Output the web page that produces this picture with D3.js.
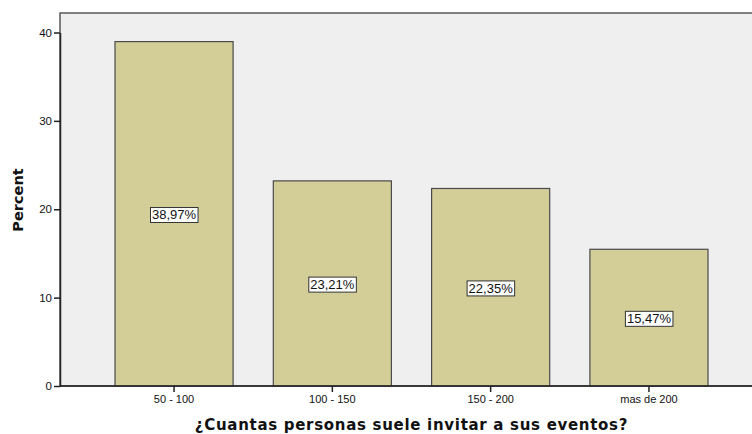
<!DOCTYPE html>
<html>
<head>
<meta charset="utf-8">
<script src="https://cdn.jsdelivr.net/npm/d3@7/dist/d3.min.js"></script>
<style>
  html, body { margin: 0; padding: 0; background: #fff; }
  svg { display: block; font-family: "Liberation Sans", Arial, sans-serif; }
</style>
</head>
<body>
<svg id="chart" width="752" height="434"></svg>
<script>
// Categories and percentage values
const categories = ["50 - 100", "100 - 150", "150 - 200", "mas de 200"];
const percents = [38.97, 23.21, 22.35, 15.47];
const valueLabels = ["38,97%", "23,21%", "22,35%", "15,47%"];
const yTicks = [0, 10, 20, 30, 40];
const xTitle = "¿Cuantas personas suele invitar a sus eventos?";
const yTitle = "Percent";

const svg = d3.select("#chart");

const plot = { left: 60, right: 764, top: 13, bottom: 386 };

const y = d3.scaleLinear().domain([0, 40]).range([plot.bottom, 32.5]);
const x = d3.scaleBand()
  .domain(categories)
  .range([115, 708])
  .paddingInner(0.254)
  .paddingOuter(0);

// plot background
svg.append("rect")
  .attr("x", plot.left).attr("y", plot.top)
  .attr("width", plot.right - plot.left).attr("height", plot.bottom - plot.top)
  .attr("fill", "#efefef")
  .attr("stroke", "#5a5a5a").attr("stroke-width", 1.5);

// bars
svg.append("g").selectAll("rect")
  .data(percents)
  .join("rect")
  .attr("x", (d, i) => x(categories[i]))
  .attr("y", d => y(d))
  .attr("width", x.bandwidth())
  .attr("height", d => plot.bottom - y(d))
  .attr("fill", "#d3ce98")
  .attr("stroke", "#4a4a4a")
  .attr("stroke-width", 1.2);

// value labels in boxes at bar mid-height
const lab = svg.append("g").selectAll("g")
  .data(percents)
  .join("g")
  .attr("transform", (d, i) => `translate(${x(categories[i]) + x.bandwidth() / 2},${y(d / 2) + 1})`);
lab.append("text")
  .attr("text-anchor", "middle")
  .attr("dy", "0.36em")
  .attr("font-size", 13)
  .attr("fill", "#111")
  .text((d, i) => valueLabels[i]);
lab.each(function () {
  const g = d3.select(this);
  const bb = g.select("text").node().getBBox();
  g.insert("rect", "text")
    .attr("x", bb.x - 1.5).attr("y", bb.y)
    .attr("width", bb.width + 3).attr("height", bb.height)
    .attr("fill", "#fff")
    .attr("stroke", "#333").attr("stroke-width", 1);
});

// y axis
const yAxis = svg.append("g")
  .attr("transform", `translate(${plot.left},0)`)
  .call(d3.axisLeft(y).tickValues(yTicks).tickSize(6).tickPadding(2).tickSizeOuter(0));
yAxis.select(".domain").attr("stroke", "#222").attr("stroke-width", 1.5);
yAxis.selectAll(".tick line").attr("stroke", "#222").attr("stroke-width", 1.5);
yAxis.selectAll(".tick text").attr("font-size", 11.5).attr("fill", "#111")
  .attr("font-family", "Liberation Sans, Arial, sans-serif");

// x axis
const xAxis = svg.append("g")
  .attr("transform", `translate(0,${plot.bottom})`)
  .call(d3.axisBottom(x).tickSize(6).tickPadding(3).tickSizeOuter(0));
xAxis.select(".domain").attr("d", `M${plot.left},0H${plot.right}`)
  .attr("stroke", "#222").attr("stroke-width", 1.5);
xAxis.selectAll(".tick line").attr("stroke", "#222").attr("stroke-width", 1.5);
xAxis.selectAll(".tick text").attr("font-size", 11).attr("fill", "#111")
  .attr("font-family", "Liberation Sans, Arial, sans-serif");

// axis titles
svg.append("text")
  .attr("x", 411.5).attr("y", 430)
  .attr("text-anchor", "middle")
  .attr("font-family", "DejaVu Sans, Verdana, sans-serif")
  .attr("font-size", 15).attr("letter-spacing", 0.7)
  .attr("font-weight", "bold").attr("fill", "#111")
  .text(xTitle);
svg.append("text")
  .attr("transform", "translate(23,200) rotate(-90)")
  .attr("text-anchor", "middle")
  .attr("font-family", "DejaVu Sans, Verdana, sans-serif")
  .attr("font-size", 14.5).attr("font-weight", "bold").attr("fill", "#111")
  .text(yTitle);
</script>
</body>
</html>
